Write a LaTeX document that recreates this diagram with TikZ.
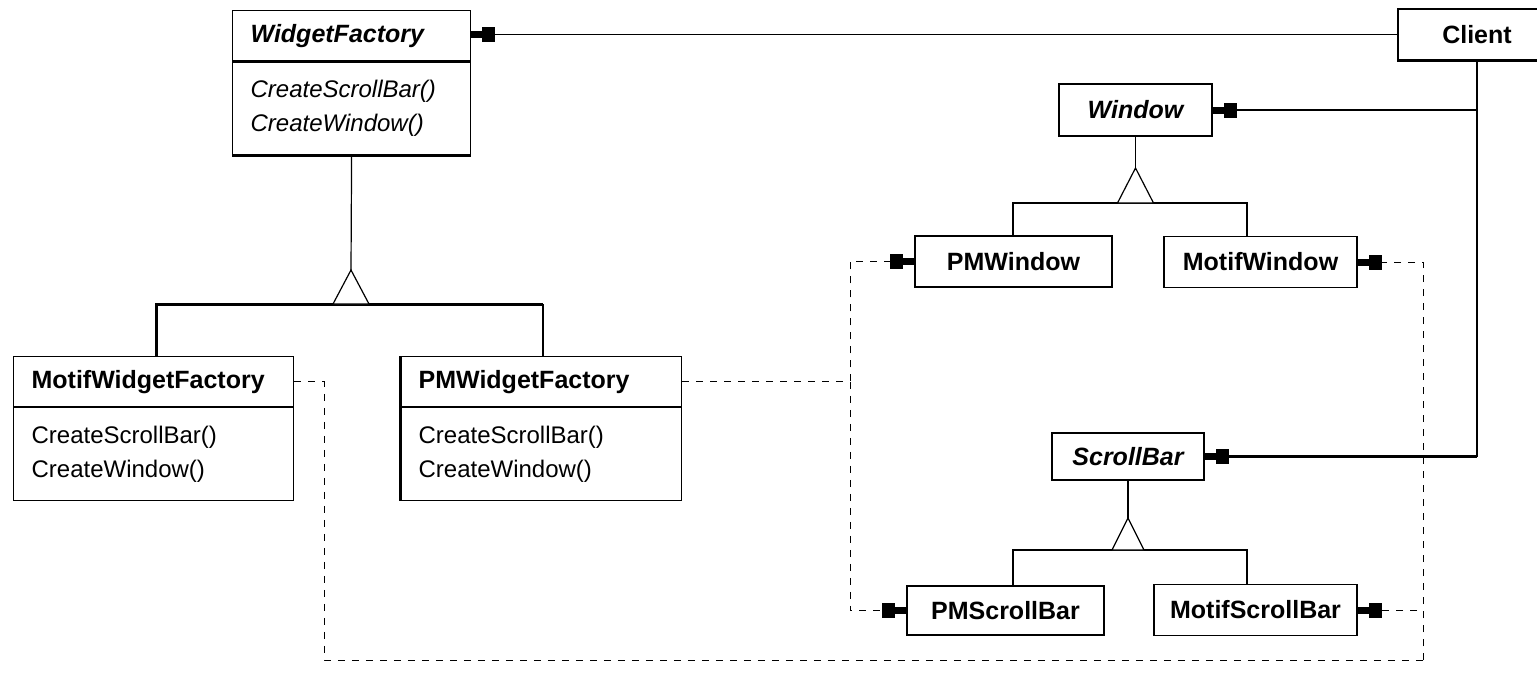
\documentclass[tikz,border=0pt]{standalone}
\usepackage{fontspec}
\setsansfont{Liberation Sans}
\usetikzlibrary{arrows.meta, positioning}
\newcommand{\hasArrow}{{Square[length=6.5pt,width=7.5pt] Square[length=5.5pt,width=3.5pt]}}

\begin{document}
\begin{tikzpicture}[x=0.5pt, y=-0.5pt, font=\sffamily, line width=0.6pt,
	cls/.style={draw, minimum height=25.5pt, font=\sffamily\fontsize{12.5}{15}\selectfont\bfseries},
	abs/.style={cls, font=\sffamily\fontsize{12.5}{15}\selectfont\bfseries\itshape},
	head/.style={draw, anchor=north west, minimum height=25pt, inner xsep=9pt, text width=#1, align=left, font=\sffamily\fontsize{12.5}{15}\selectfont\bfseries},
	ops/.style={draw, minimum height=46.5pt, inner xsep=9pt, text width=#1, align=left, font=\sffamily\fontsize{12}{17}\selectfont},
	dep/.style={dash pattern=on 3.5pt off 3.5pt, line width=0.5pt},
	gen/.style={fill=white}]
	\useasboundingbox (0,0) rectangle (1537,691);
	
	\node[head=101pt, font=\sffamily\fontsize{12.5}{15}\selectfont\bfseries\itshape] (wf) at (232,10) {WidgetFactory};
	\node[ops=101pt, font=\sffamily\fontsize{12}{17}\selectfont\itshape, below=0pt of wf] (wfops) {CreateScrollBar()\\CreateWindow()};
	\node[head=122pt] (mwf) at (13,356) {MotifWidgetFactory};
	\node[ops=122pt, below=0pt of mwf] (mwfops) {CreateScrollBar()\\CreateWindow()};
	\node[head=122.5pt] (pmwf) at (400,356) {PMWidgetFactory};
	\node[ops=122.5pt, below=0pt of pmwf] (pmwfops) {CreateScrollBar()\\CreateWindow()};
	
	\node[cls, minimum width=79pt] (client) at (1477,34.5) {Client};
	\node[abs, minimum width=76.5pt, minimum height=26pt] (wnd) at (1135.5,110) {Window};
	\node[cls, minimum width=98.5pt] (pmwin) at (1013.5,261.5) {PMWindow};
	\node[cls, minimum width=96.5pt] (mwin) at (1260.5,262) {MotifWindow};
	\node[abs, minimum width=76pt, minimum height=23.5pt] (sb) at (1128,456.5) {ScrollBar};
	\node[cls, minimum width=98.5pt, minimum height=24.5pt] (pmsb) at (1005.5,610.5) {PMScrollBar};
	\node[cls, minimum width=101.5pt] (msb) at (1255.5,610) {MotifScrollBar};
	
	\coordinate (wftri) at (351,270);
	\coordinate (wfl) at (156,304);
	\coordinate (wfr) at (543,304);
	\coordinate (wtri) at (1135.5,168);
	\coordinate (wl) at (1013,203);
	\coordinate (wr) at (1247,203);
	\coordinate (sbtri) at (1128,518);
	\coordinate (sbl) at (1013,550);
	\coordinate (sbr) at (1247,550);
	\coordinate (pmbus) at (850,0);
	\coordinate (mbotl) at (324,660);
	\coordinate (mbotr) at (1423,660);
	
	\draw[line width=1.5pt] (wf.south west) -- (wf.south east);
	\draw[line width=1.5pt] (wfops.south west) -- (wfops.south east);
	\draw[line width=1.5pt] (client.south west) -- (client.south east);
	\draw[line width=1.5pt] (pmwf.north west) -- (pmwfops.south west);
	
	\draw (wfops.south) -- (wftri);
	\draw[line width=1.5pt] (wfl |- mwf.north) -- (wfl) -- (wfr);
	\draw (wfr) -- (wfr |- pmwf.north);
	\draw[gen] (wftri) -- ++(18,34) -- ++(-36,0) -- cycle;
	
	\draw (wnd.south) -- (wtri);
	\draw (wl |- pmwin.north) -- (wl) -- (wr) -- (wr |- mwin.north);
	\draw[gen] (wtri) -- ++(18,35) -- ++(-36,0) -- cycle;
	
	\draw (sb.south) -- (sbtri);
	\draw (sbl |- pmsb.north) -- (sbl) -- (sbr) -- (sbr |- msb.north);
	\draw[gen] (sbtri) -- ++(16,32) -- ++(-32,0) -- cycle;
	
	\draw[-\hasArrow] (client.west) -- (client.west -| wf.east);
	\draw[-\hasArrow] (client.south) |- (wnd.east);
	\draw (client.south) -- (client.south |- sb.east);
	\draw[line width=1.5pt, -\hasArrow] (client.south |- sb.east) -- (sb.east);
	
	\draw[dep, -\hasArrow] (pmwf.east) -| (pmbus |- pmwin.west) -- (pmwin.west);
	\draw[dep, -\hasArrow] (pmwf.east) -| (pmbus |- pmsb.west) -- (pmsb.west);
	\draw[dep] (mwf.east) -| (mbotl) -- (mbotr);
	\draw[dep, -\hasArrow] (mbotr) |- (msb.east);
	\draw[dep, -\hasArrow] (mbotr) |- (mwin.east);
\end{tikzpicture}
\end{document}
